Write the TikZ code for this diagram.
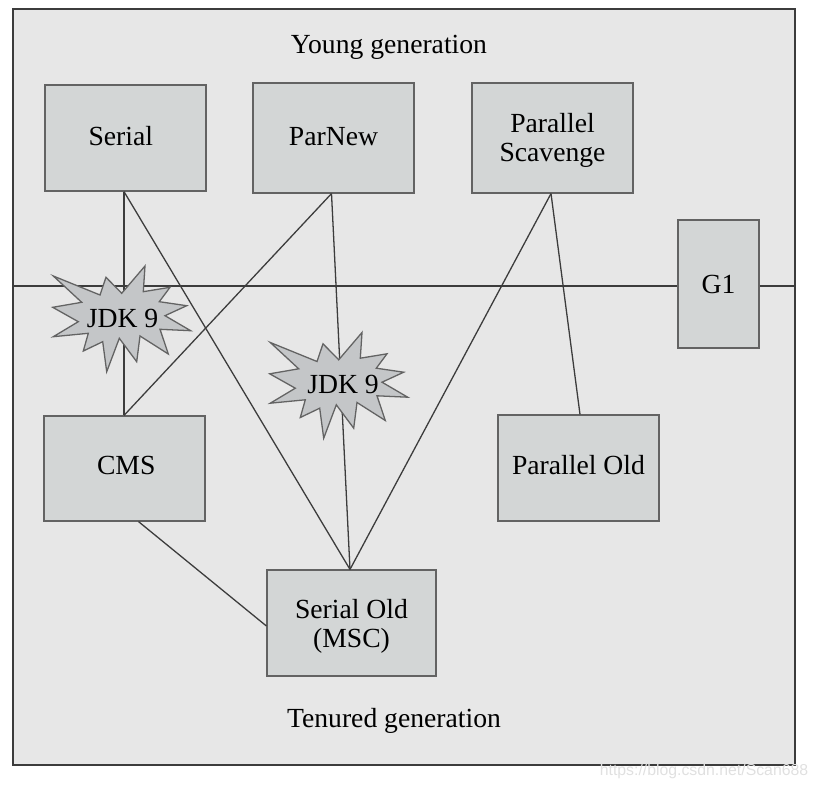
\documentclass[tikz,border=0pt]{standalone}
\usepackage{fontspec}
\setmainfont{Liberation Serif}
\newfontfamily\marksans{Liberation Sans}
\definecolor{panelgray}{HTML}{E7E7E7}
\definecolor{boxgray}{HTML}{D3D6D6}
\definecolor{burstgray}{HTML}{C4C6C8}
\definecolor{linegray}{HTML}{3C3C3C}
\newcommand{\jdkburst}[1]{%
    \draw[burst, shift={#1}] (53.3,276) -- (100,295) -- (106,277.3) -- (121.7,293.3) -- (145,266) -- (143.3,291.7)
        -- (170,287.3) -- (159.3,301.7) -- (186.7,305.7) -- (165,315.7) -- (190.7,330.7) -- (160,329.3)
        -- (168.3,354) -- (140,336) -- (136.7,361.7) -- (119.3,338.3) -- (106.7,371.7) -- (102.7,341.7)
        -- (83.3,351) -- (88.3,333.3) -- (53.3,336.7) -- (78.3,321.7) -- (52.7,307.3) -- (81.7,302.3) -- cycle;}
\begin{document}
\begin{tikzpicture}[x=0.03cm, y=-0.03cm,
    boxnode/.style 2 args={draw=linegray!80, fill=boxgray, line width=1pt, align=center, inner sep=0pt,
        minimum width=#1*0.03cm, minimum height=#2*0.03cm, font=\fontsize{23.6}{25}\selectfont},
    burst/.style={draw=linegray!80, fill=burstgray, line width=1.1pt},
    wire/.style={draw=linegray, line width=1.1pt},
    caption/.style={inner sep=0pt, font=\fontsize{23.6}{25}\selectfont}]
    \useasboundingbox (0,0) rectangle (818,789);
    \node[draw=linegray, fill=panelgray, line width=1pt, minimum width=782*0.03cm, minimum height=756*0.03cm, inner sep=0pt] (panel) at (404,387) {};
    \node[boxnode={161}{106}, text depth=3pt] (serial) at (125.5,138) {Serial\hspace{8pt}};
    \node[boxnode={161}{110}, text depth=3pt] (parnew) at (333.5,138) {ParNew};
    \node[boxnode={161}{110}] (scavenge) at (552.5,138) {\rule{0pt}{20pt}Parallel\\Scavenge};
    \node[boxnode={81}{128}] (gone) at (718.5,284) {G1};
    \node[boxnode={161}{105}, text depth=5pt] (cms) at (124.5,468.5) {CMS\hspace*{-3pt}};
    \node[boxnode={161}{106}, text depth=5pt] (parold) at (578.5,468) {Parallel Old};
    \node[boxnode={169}{106}] (serialold) at (351.5,623) {\rule{0pt}{22pt}Serial Old\\(MSC)};
    \coordinate (midleft) at (13,286);
    \coordinate (midright) at (795,286);
    \draw[wire] (midleft) -- (midleft -| gone.west);
    \draw[wire] (midright -| gone.east) -- (midright);
    \draw[wire] ([xshift=-1.5*0.03cm]serial.south) -- ([xshift=-0.5*0.03cm]cms.north);
    \draw[wire] ([xshift=-1.5*0.03cm]serial.south) -- ([xshift=-1.5*0.03cm]serialold.north);
    \draw[wire] ([xshift=-2*0.03cm]parnew.south) -- ([xshift=-0.5*0.03cm]cms.north);
    \draw[wire] ([xshift=-2*0.03cm]parnew.south) -- ([xshift=-1.5*0.03cm]serialold.north);
    \draw[wire] ([xshift=-1.5*0.03cm]scavenge.south) -- ([xshift=-1.5*0.03cm]serialold.north);
    \draw[wire] ([xshift=-1.5*0.03cm]scavenge.south) -- ([xshift=1.5*0.03cm]parold.north);
    \draw[wire] ([xshift=14*0.03cm]cms.south) -- ([yshift=-3*0.03cm]serialold.west);
    \jdkburst{(0,0)}
    \jdkburst{(217,66.5)}
    \node[caption] (jdkleft) at (122.5,318) {JDK 9};
    \node[caption] (jdkright) at (343,384) {JDK 9};
    \node[caption] (young) at (389,47) {Young generation};
    \node[caption] (tenured) at (394,721) {Tenured generation};
    \node[inner sep=0pt, text=black!12, font=\marksans\fontsize{13.5}{16}\selectfont] (mark) at (704,771) {https://blog.csdn.net/Scan688};
\end{tikzpicture}
\end{document}
